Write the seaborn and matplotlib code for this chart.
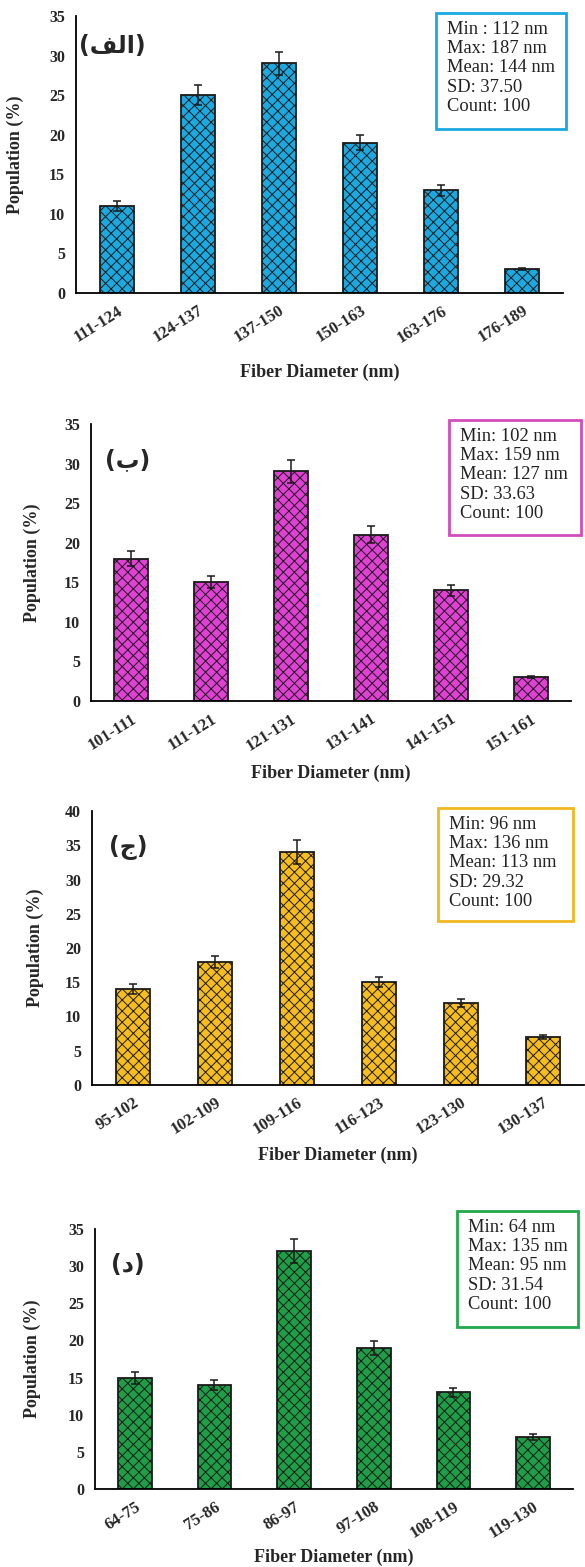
import numpy as np
import matplotlib
matplotlib.use("Agg")
import matplotlib.pyplot as plt
from matplotlib.patches import Rectangle
import seaborn as sns

# داده‌ها
cats_a = ["111-124", "124-137", "137-150", "150-163", "163-176", "176-189"]
vals_a = [11, 25, 29, 19, 13, 3]
err_a = [0.6, 1.25, 1.45, 0.95, 0.7, 0.15]

cats_b = ["101-111", "111-121", "121-131", "131-141", "141-151", "151-161"]
vals_b = [18, 15, 29, 21, 14, 3]
err_b = [0.9, 0.75, 1.5, 1.05, 0.7, 0.15]

cats_c = ["95-102", "102-109", "109-116", "116-123", "123-130", "130-137"]
vals_c = [14, 18, 34, 15, 12, 7]
err_c = [0.7, 0.9, 1.7, 0.75, 0.6, 0.35]

cats_d = ["64-75", "75-86", "86-97", "97-108", "108-119", "119-130"]
vals_d = [15, 14, 32, 19, 13, 7]
err_d = [0.8, 0.7, 1.6, 0.95, 0.65, 0.35]

stats_a = ["Min : 112 nm", "Max: 187 nm", "Mean: 144 nm", "SD: 37.50", "Count: 100"]
stats_b = ["Min: 102 nm", "Max: 159 nm", "Mean: 127 nm", "SD: 33.63", "Count: 100"]
stats_c = ["Min: 96 nm", "Max: 136 nm", "Mean: 113 nm", "SD: 29.32", "Count: 100"]
stats_d = ["Min: 64 nm", "Max: 135 nm", "Mean: 95 nm", "SD: 31.54", "Count: 100"]

# برچسب‌های فارسی به صورت شکل‌های نمایشی (matplotlib شکل‌دهی عربی ندارد)
tags = ["(\uFED2\uFEDF\uFE8D)", "(\uFE8F)", "(\uFE9D)", "(\uFEA9)"]

colors = ["#1aa9e0", "#e040d4", "#f7bd1c", "#1e9e46"]
box_colors = ["#1aa9e0", "#d24cbc", "#f2b820", "#22a84a"]

W, H = 585, 1567

sns.set_theme(style="white")
plt.rcParams["font.family"] = ["Liberation Serif", "DejaVu Sans"]
plt.rcParams["hatch.linewidth"] = 0.7


def px_rect(l, r, t, b):
    return [l / W, 1 - b / H, (r - l) / W, (b - t) / H]


def panel(fig, cats, vals, errs, color, box_color, stats, tag, ymax,
          ax_px, box_px, tag_px, xlab_y, ylab_x):
    ax = fig.add_axes(px_rect(*ax_px))
    sns.barplot(x=cats, y=vals, color=color, width=0.42, saturation=1,
                edgecolor="#1a1a1a", linewidth=1.3, hatch="xxx", ax=ax,
                errorbar=None)
    xs = [p.get_x() + p.get_width() / 2 for p in ax.patches]
    ax.errorbar(xs, vals, yerr=errs, fmt="none", ecolor="#1a1a1a",
                elinewidth=1.1, capsize=3, capthick=1.1)

    ax.set_xlim(-0.5, len(cats) - 0.5)
    ax.set_ylim(0, ymax)
    ax.set_yticks(np.arange(0, ymax + 1, 5))
    ax.set_xticks(np.arange(-0.5, len(cats), 1.0), minor=True)
    ax.tick_params(axis="x", which="major", length=0, pad=7)
    ax.tick_params(axis="x", which="minor", length=5, width=1.2,
                   direction="out", color="black")
    ax.tick_params(axis="y", length=5, width=1.2, direction="out",
                   color="black", pad=3)
    for lab in ax.get_xticklabels():
        lab.set_rotation(32)
        lab.set_ha("right")
        lab.set_rotation_mode("anchor")
        lab.set_fontweight("bold")
        lab.set_fontsize(12)
    for lab in ax.get_yticklabels():
        lab.set_fontweight("bold")
        lab.set_fontsize(11.5)

    sns.despine(ax=ax)
    for s in ["left", "bottom"]:
        ax.spines[s].set_color("black")
        ax.spines[s].set_linewidth(1.3)
    ax.set_xlabel("")
    ax.set_ylabel("")

    # برچسب محورها
    l, r, t, b = ax_px
    fig.text((l + r) / 2 / W, 1 - xlab_y / H, "Fiber Diameter (nm)",
             ha="center", va="center", fontsize=13, fontweight="bold")
    fig.text(ylab_x / W, 1 - (t + b) / 2 / H, "Population (%)",
             ha="center", va="center", rotation=90, fontsize=13,
             fontweight="bold")

    # برچسب پنل
    fig.text(tag_px[0] / W, 1 - tag_px[1] / H, tag, ha="center",
             va="center", fontsize=17, fontweight="bold",
             family=["DejaVu Sans"])

    # کادر آمار
    bl, br, bt, bb = box_px
    fig.add_artist(Rectangle((bl / W, 1 - bb / H), (br - bl) / W,
                             (bb - bt) / H, transform=fig.transFigure,
                             facecolor="white", edgecolor=box_color,
                             linewidth=2))
    fig.text((bl + 11) / W, 1 - (bt + 8) / H, "\n".join(stats),
             ha="left", va="top", fontsize=13.3, linespacing=1.17,
             color="#222222")
    return ax


fig = plt.figure(figsize=(W / 100, H / 100), dpi=100)

panel(fig, cats_a, vals_a, err_a, colors[0], box_colors[0], stats_a, tags[0],
      35, (76, 563, 16, 293), (436, 566, 13, 129), (112, 46), 372, 15)
panel(fig, cats_b, vals_b, err_b, colors[1], box_colors[1], stats_b, tags[1],
      35, (91, 571, 424, 701), (449, 581, 420, 535), (128, 460), 773, 32)
panel(fig, cats_c, vals_c, err_c, colors[2], box_colors[2], stats_c, tags[2],
      40, (92, 584, 811, 1085), (438, 573, 808, 921), (128, 848), 1155, 35)
panel(fig, cats_d, vals_d, err_d, colors[3], box_colors[3], stats_d, tags[3],
      35, (95, 573, 1229, 1489), (457, 578, 1211, 1327), (128, 1265), 1557, 32)

fig.savefig("out.png", dpi=100, facecolor="white")
